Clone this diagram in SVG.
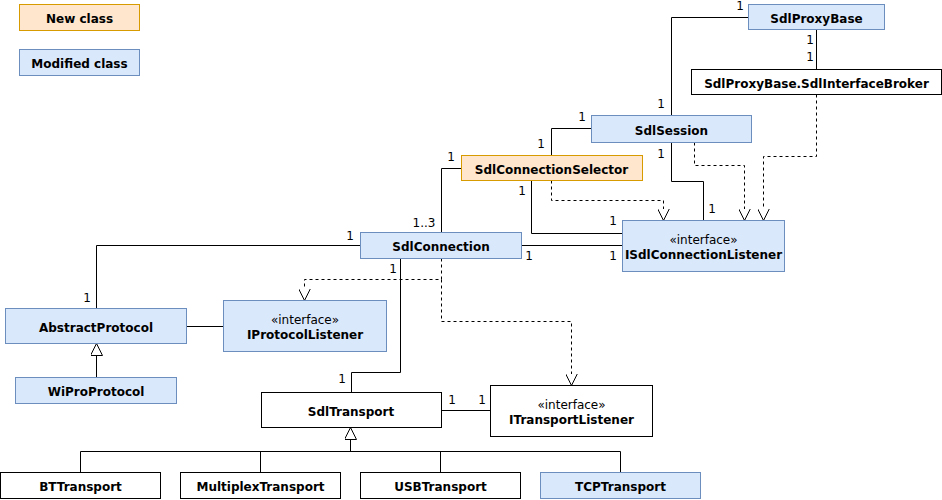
<svg xmlns="http://www.w3.org/2000/svg" width="942" height="500" viewBox="0 0 942 500">
<defs>
<style>
text{font-family:"DejaVu Sans","Liberation Sans",sans-serif;font-size:12px;fill:#000}
.n{font-weight:bold;text-anchor:middle;dominant-baseline:central;transform:translateY(1.5px)}
.s{text-anchor:middle;dominant-baseline:central;transform:translateY(1.5px)}
.m{text-anchor:middle}
.blue{fill:#dae8fc;stroke:#6c8ebf;stroke-width:1}
.orange{fill:#ffe6cc;stroke:#d79b00;stroke-width:1}
.white{fill:#fff;stroke:#000;stroke-width:1}
.ln{fill:none;stroke:#000;stroke-width:1}
.dash{fill:none;stroke:#000;stroke-width:1;stroke-dasharray:3 3}
</style>
<marker id="tri" viewBox="0 0 12 12" refX="12" refY="6" markerWidth="12" markerHeight="12" markerUnits="userSpaceOnUse" orient="auto">
<path d="M0,0 L12,6 L0,12 Z" fill="#fff" stroke="#000" stroke-width="1"/>
</marker>
</defs>

<g id="legend-new"><rect class="orange" x="19.5" y="4.5" width="120" height="26"/><text class="n" x="79.5" y="17.5">New class</text></g>
<g id="legend-modified"><rect class="blue" x="19.5" y="49.5" width="120" height="26"/><text class="n" x="79.5" y="62.5">Modified class</text></g>

<g id="connectors">
<path class="ln" d="M748.5,17.5 H671.5 V115.5"/>
<path class="ln" d="M816.5,29.5 V69.5"/>
<path class="dash" d="M816.5,94.5 V156.5 H763.5 V220.5" marker-end="url(#tri)"/>
<path class="dash" d="M694.5,142.5 V165.5 H744.5 V220.5" marker-end="url(#tri)"/>
<path class="ln" d="M671.5,142.5 V181.5 H703.5 V220.5"/>
<path class="ln" d="M591.5,128.5 H551.5 V155.5"/>
<path class="ln" d="M461.5,168.5 H441.5 V232.5"/>
<path class="ln" d="M531.5,180.5 V233.5 H622.5"/>
<path class="dash" d="M551.5,180.5 V200.5 H663.5 V220.5" marker-end="url(#tri)"/>
<path class="ln" d="M521.5,245.5 H622.5"/>
<path class="ln" d="M360.5,245.5 H96.5 V308.5"/>
<path class="ln" d="M186.5,326.5 H223.5"/>
<path class="ln" d="M96.5,377.5 V343.5" marker-end="url(#tri)"/>
<path class="dash" d="M441.5,258.5 V279.5 H304.5 V300.5" marker-end="url(#tri)"/>
<path class="dash" d="M441.5,279.5 V321.5 H571.5 V385.5" marker-end="url(#tri)"/>
<path class="ln" d="M400.5,258.5 V372.5 H351.5 V392.5"/>
<path class="ln" d="M441.5,410.5 H490.5"/>
<path class="ln" d="M350.5,451.5 V427.5" marker-end="url(#tri)"/>
<path class="ln" d="M80.5,472.5 V451.5 H620.5 V472.5"/>
<path class="ln" d="M260.5,451.5 V472.5"/>
<path class="ln" d="M440.5,451.5 V472.5"/>
</g>

<g id="SdlProxyBase"><rect class="blue" x="748.5" y="4.5" width="136" height="25"/><text class="n" x="816.5" y="17">SdlProxyBase</text></g>
<g id="SdlInterfaceBroker"><rect class="white" x="691.5" y="69.5" width="250" height="25"/><text class="n" x="816.5" y="82">SdlProxyBase.SdlInterfaceBroker</text></g>
<g id="SdlSession"><rect class="blue" x="591.5" y="115.5" width="160" height="27"/><text class="n" x="671.5" y="129">SdlSession</text></g>
<g id="SdlConnectionSelector"><rect class="orange" x="461.5" y="155.5" width="181" height="25"/><text class="n" x="551.5" y="168">SdlConnectionSelector</text></g>
<g id="ISdlConnectionListener"><rect class="blue" x="622.5" y="220.5" width="162" height="51"/><text class="s" x="703.5" y="238">«interface»</text><text class="n" x="703.5" y="253">ISdlConnectionListener</text></g>
<g id="SdlConnection"><rect class="blue" x="360.5" y="232.5" width="161" height="26"/><text class="n" x="441" y="245.5">SdlConnection</text></g>
<g id="AbstractProtocol"><rect class="blue" x="5.5" y="308.5" width="181" height="35"/><text class="n" x="96" y="326">AbstractProtocol</text></g>
<g id="IProtocolListener"><rect class="blue" x="223.5" y="300.5" width="163" height="51"/><text class="s" x="305" y="318">«interface»</text><text class="n" x="305" y="333">IProtocolListener</text></g>
<g id="WiProProtocol"><rect class="blue" x="15.5" y="377.5" width="161" height="26"/><text class="n" x="96" y="390.5">WiProProtocol</text></g>
<g id="SdlTransport"><rect class="white" x="261.5" y="392.5" width="180" height="35"/><text class="n" x="351" y="410">SdlTransport</text></g>
<g id="ITransportListener"><rect class="white" x="490.5" y="385.5" width="162" height="51"/><text class="s" x="571.5" y="403">«interface»</text><text class="n" x="571.5" y="418">ITransportListener</text></g>
<g id="BTTransport"><rect class="white" x="0.5" y="472.5" width="160" height="26"/><text class="n" x="80.5" y="485.5">BTTransport</text></g>
<g id="MultiplexTransport"><rect class="white" x="180.5" y="472.5" width="160" height="26"/><text class="n" x="260.5" y="485.5">MultiplexTransport</text></g>
<g id="USBTransport"><rect class="white" x="360.5" y="472.5" width="160" height="26"/><text class="n" x="440.5" y="485.5">USBTransport</text></g>
<g id="TCPTransport"><rect class="blue" x="540.5" y="472.5" width="160" height="26"/><text class="n" x="620.5" y="485.5">TCPTransport</text></g>

<g id="multiplicities">
<text class="m" x="740" y="10">1</text>
<text class="m" x="661" y="108">1</text>
<text class="m" x="810" y="44">1</text>
<text class="m" x="810" y="61">1</text>
<text class="m" x="582" y="121">1</text>
<text class="m" x="541" y="148">1</text>
<text class="m" x="451" y="161">1</text>
<text class="m" x="424" y="227">1..3</text>
<text class="m" x="661" y="158">1</text>
<text class="m" x="712" y="213">1</text>
<text class="m" x="522" y="195">1</text>
<text class="m" x="613" y="225">1</text>
<text class="m" x="529" y="260">1</text>
<text class="m" x="613" y="260">1</text>
<text class="m" x="350" y="240">1</text>
<text class="m" x="87" y="302">1</text>
<text class="m" x="393" y="273">1</text>
<text class="m" x="342" y="383">1</text>
<text class="m" x="452" y="404">1</text>
<text class="m" x="482" y="404">1</text>
</g>
</svg>
